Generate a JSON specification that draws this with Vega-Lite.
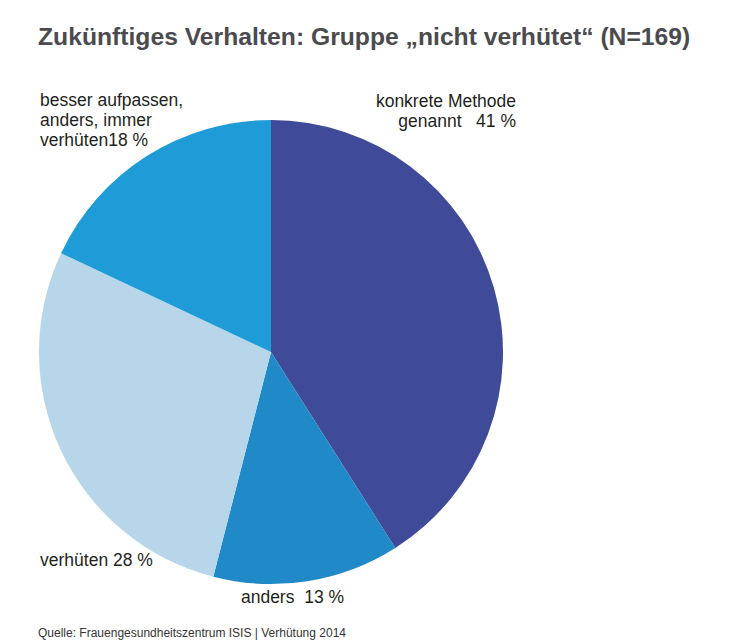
{
  "$schema": "https://vega.github.io/schema/vega-lite/v6.json",
  "width": 464,
  "height": 464,
  "autosize": {"type": "none"},
  "padding": {"left": 39, "top": 120, "right": 236, "bottom": 57},
  "background": "white",
  "config": {"view": {"stroke": null}, "font": "Liberation Sans"},
  "title": {
    "text": "Zukünftiges Verhalten: Gruppe „nicht verhütet“ (N=169)",
    "anchor": "start",
    "frame": "group",
    "font": "Liberation Sans",
    "fontSize": 24.7,
    "fontWeight": "bold",
    "color": "#4b4b4f",
    "baseline": "top",
    "offset": 42,
    "dx": -1
  },
  "data": {
    "values": [
      {"cat": "konkrete Methode genannt", "label": "konkrete Methode\ngenannt\u00a0\u00a0\u00a041 %", "pct": 41, "rank": 1},
      {"cat": "anders", "label": "anders\u00a0\u00a013 %", "pct": 13, "rank": 2},
      {"cat": "verhüten", "label": "verhüten 28 %", "pct": 28, "rank": 3},
      {"cat": "besser aufpassen, anders, immer verhüten", "label": "besser aufpassen,\nanders, immer\nverhüten18 %", "pct": 18, "rank": 4}
    ]
  },
  "layer": [
    {
      "mark": {"type": "arc", "stroke": null},
      "encoding": {
        "theta": {"field": "pct", "type": "quantitative", "stack": true, "scale": {"domain": [0, 100]}},
        "order": {"field": "rank", "type": "quantitative"},
        "color": {
          "field": "cat",
          "type": "nominal",
          "scale": {
            "domain": ["konkrete Methode genannt", "anders", "verhüten", "besser aufpassen, anders, immer verhüten"],
            "range": ["#3f4a99", "#2089c8", "#b7d6ea", "#1f9cd8"]
          },
          "legend": null
        }
      }
    },
    {
      "transform": [
        {"stack": "pct", "groupby": [], "sort": [{"field": "rank", "order": "ascending"}], "as": ["t0", "t1"]}
      ],
      "encoding": {
        "theta": {"field": "t0", "type": "quantitative", "stack": null, "scale": {"domain": [0, 100]}},
        "text": {"field": "label", "type": "nominal"}
      },
      "layer": [
        {
          "transform": [{"filter": "datum.rank === 1"}],
          "mark": {"type": "text", "radius": 245.5, "align": "right", "baseline": "alphabetic", "dx": 245, "dy": 0, "lineBreak": "\n", "lineHeight": 20, "fontSize": 17.5, "color": "#231f20"}
        },
        {
          "transform": [{"filter": "datum.rank === 2"}],
          "mark": {"type": "text", "radius": 240, "align": "center", "baseline": "alphabetic", "dx": -107.1, "dy": 48.4, "lineBreak": "\n", "lineHeight": 20, "fontSize": 17.5, "color": "#231f20"}
        },
        {
          "transform": [{"filter": "datum.rank === 3"}],
          "mark": {"type": "text", "radius": 240, "align": "left", "baseline": "alphabetic", "dx": -171.3, "dy": -18, "lineBreak": "\n", "lineHeight": 20, "fontSize": 17.5, "color": "#231f20"}
        },
        {
          "transform": [{"filter": "datum.rank === 4"}],
          "mark": {"type": "text", "radius": 240, "align": "left", "baseline": "alphabetic", "dx": -13.8, "dy": -144.3, "lineBreak": "\n", "lineHeight": 20.3, "fontSize": 17.5, "color": "#231f20"}
        }
      ]
    },
    {
      "data": {"values": [{"note": "Quelle: Frauengesundheitszentrum ISIS | Verhütung 2014"}]},
      "mark": {"type": "text", "align": "left", "baseline": "alphabetic", "dx": -233, "dy": 284.5, "fontSize": 12, "color": "#333333"},
      "encoding": {"text": {"field": "note", "type": "nominal"}}
    }
  ]
}
